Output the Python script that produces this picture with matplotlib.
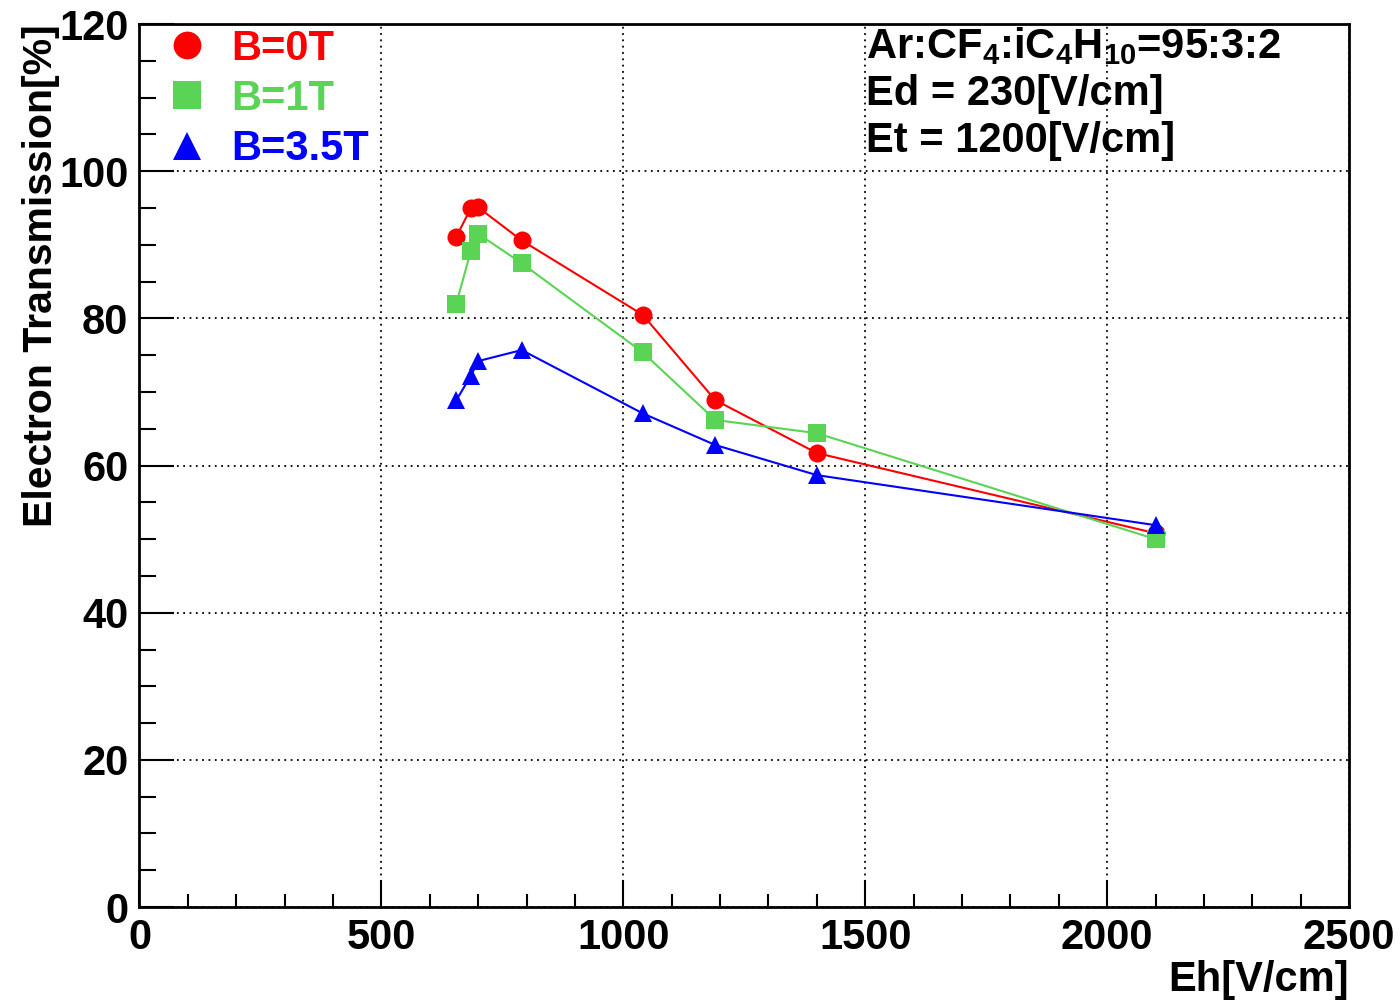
import matplotlib.pyplot as plt
from matplotlib.lines import Line2D
from matplotlib.ticker import MultipleLocator

plt.rcParams['font.family'] = ['Liberation Sans', 'DejaVu Sans']
plt.rcParams['font.weight'] = 'bold'
plt.rcParams['mathtext.fontset'] = 'custom'
plt.rcParams['mathtext.rm'] = 'Liberation Sans:bold'
plt.rcParams['mathtext.it'] = 'Liberation Sans:bold'
plt.rcParams['mathtext.bf'] = 'Liberation Sans:bold'
plt.rcParams['mathtext.default'] = 'rm'

# Eh [V/cm] (same for all three fields)
eh = [655, 685, 700, 790, 1040, 1190, 1400, 2100]
# electron transmission [%]
trans_b0 = [91.1, 95.0, 95.1, 90.6, 80.5, 68.9, 61.7, 50.8]
trans_b1 = [82.0, 89.2, 91.5, 87.5, 75.4, 66.2, 64.4, 50.0]
trans_b35 = [68.9, 72.2, 74.2, 75.7, 67.1, 62.8, 58.7, 51.9]

labels = ['B=0T', 'B=1T', 'B=3.5T']
colors = ['#ff0000', '#59d454', '#0000ff']
markers = ['o', 's', '^']

fig = plt.figure(figsize=(14, 10.05), dpi=100)
ax = fig.add_axes([0.0996, 0.0975, 0.864, 0.8785])

for ys, c, m in zip([trans_b0, trans_b1, trans_b35], colors, markers):
    ax.plot(eh, ys, color=c, marker=m, markersize=13, linewidth=1.5,
            markeredgewidth=0)

ax.set_xlim(0, 2500)
ax.set_ylim(0, 120)
ax.xaxis.set_major_locator(MultipleLocator(500))
ax.xaxis.set_minor_locator(MultipleLocator(100))
ax.yaxis.set_major_locator(MultipleLocator(20))
ax.yaxis.set_minor_locator(MultipleLocator(5))

ax.grid(True, which='major', color='black', linestyle=(0, (1, 2.5)), linewidth=1.3)
ax.set_axisbelow(True)

for s in ax.spines.values():
    s.set_linewidth(2)
ax.tick_params(axis='y', which='major', direction='in', length=25, width=1.5,
               labelsize=30, pad=8, right=False)
ax.tick_params(axis='y', which='minor', direction='in', length=12.5, width=1.5, right=False)
ax.tick_params(axis='x', which='major', direction='in', length=19.5, width=1.5,
               labelsize=30, pad=8, top=False)
ax.tick_params(axis='x', which='minor', direction='in', length=9.5, width=1.5, top=False)

ax.set_xlabel('Eh[V/cm]', fontsize=30, fontweight='bold', loc='right', labelpad=1)
ax.set_ylabel('Electron Transmission[%]', fontsize=29.5, fontweight='bold', loc='top', labelpad=-1)

handles = [Line2D([], [], color=c, marker=m, linestyle='none', markersize=20, markeredgewidth=0)
           for c, m in zip(colors, markers)]
ax.legend(handles, labels, loc='upper left', bbox_to_anchor=(-0.002, 1.028), frameon=False,
          labelcolor=colors, handlelength=1.0, handletextpad=0.55, labelspacing=0.25,
          borderaxespad=0.3, prop={'weight': 'bold', 'size': 30})

ax.text(0.601, 0.999, 'Ar:CF$_4$:iC$_4$H$_{10}$=95:3:2\nEd = 230[V/cm]\nEt = 1200[V/cm]',
        transform=ax.transAxes, ha='left', va='top', fontsize=30, fontweight='bold',
        linespacing=1.22)

fig.savefig('out.png', dpi=100)
